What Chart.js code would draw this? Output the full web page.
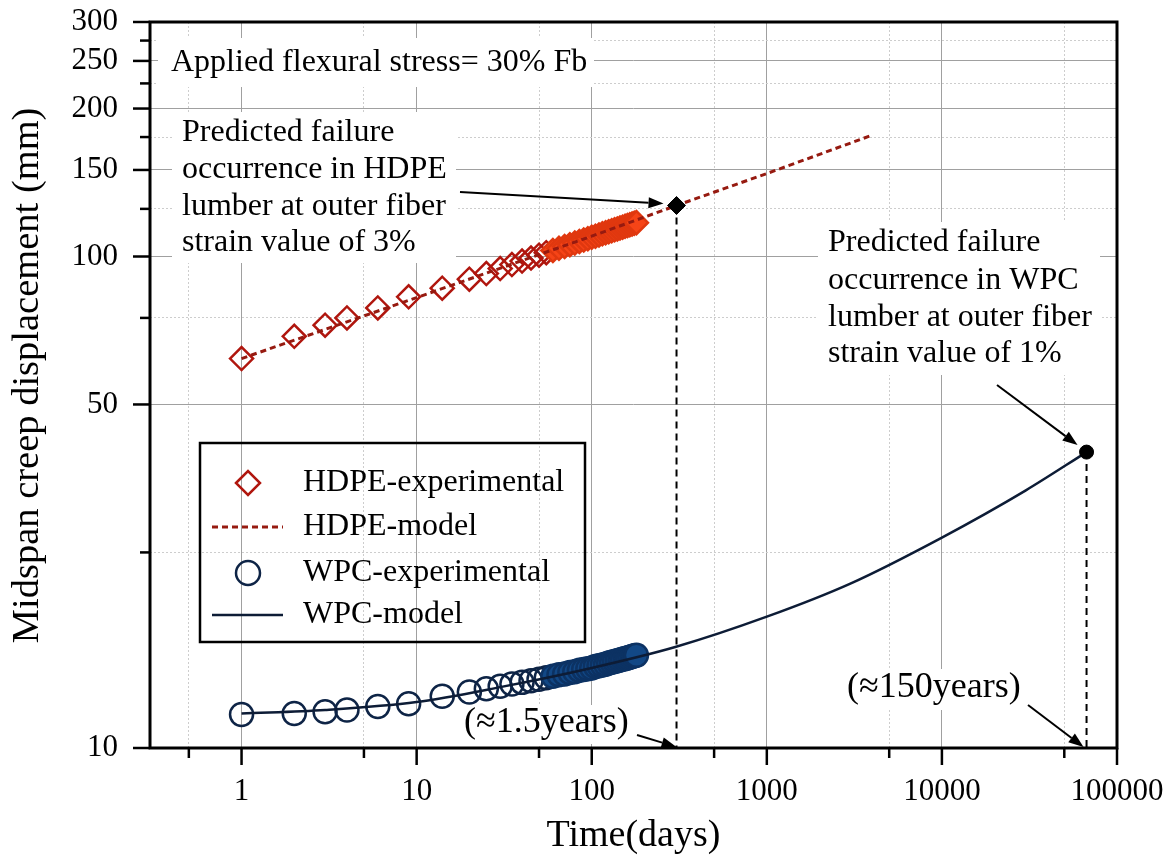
<!DOCTYPE html>
<html><head><meta charset="utf-8">
<script src="https://cdn.jsdelivr.net/npm/chart.js@4.4.1/dist/chart.umd.min.js"></script>
<style>html,body{margin:0;padding:0;background:#fff;}#wrap{width:1174px;height:859px;}</style>
</head><body><div id="wrap"><canvas id="c" width="1174" height="859"></canvas></div>
<script>
// ---------- data ----------
const xTickValues = [0.5, 1, 5, 10, 50, 100, 500, 1000, 5000, 10000, 50000, 100000];
const xMajorTicks = [1, 10, 100, 1000, 10000, 100000];
const yTickValues = [10, 25, 50, 75, 100, 125, 150, 175, 200, 225, 250, 275, 300];
const yMajorTicks = [10, 50, 100, 150, 200, 250, 300];

const hdpeDays = [1,2,3,4,6,9,14,20,25,30,35,40,45,50,55,60,65,70,75,80,85,90,95,100,105,110,115,120,125,130,135,140,145,150,155,160,165,170,175,180];
const hdpeExp = [62.0,68.8,72.5,75.0,78.6,82.8,86.2,89.9,92.3,94.5,96.3,97.9,99.3,100.6,101.8,102.9,103.9,104.8,105.7,106.5,107.3,108.0,108.7,109.4,110.0,110.6,111.2,111.8,112.3,112.8,113.3,113.8,114.3,114.7,115.2,115.6,116.0,116.4,116.8,117.2];

const wpcDays = [1,2,3,4,6,9,14,20,25,30,35,40,45,50,55,60,65,70,75,80,85,90,95,100,105,110,115,120,125,130,135,140,145,150,155,160,165,170,175,180];
const wpcExp = [11.70,11.75,11.85,11.95,12.15,12.30,12.75,13.00,13.20,13.35,13.50,13.60,13.70,13.80,13.90,14.00,14.10,14.15,14.25,14.30,14.40,14.45,14.50,14.55,14.65,14.70,14.75,14.80,14.90,14.95,15.00,15.05,15.10,15.15,15.20,15.25,15.30,15.35,15.40,15.45];

const hdpeModelDays = [1, 10, 100, 305, 1000, 3900];
const hdpeModel = [62.0, 82.5, 110.0, 127.0, 147.5, 176.0];

const wpcModelDays = [1, 3, 10, 30, 100, 300, 1000, 3000, 10000, 30000, 67000];
const wpcModel = [11.75, 11.95, 12.4, 13.3, 14.55, 16.05, 18.5, 21.6, 26.8, 33.4, 40.0];

const hdpeFailure = { day: 305, value: 127.0 };
const wpcFailure = { day: 67000, value: 40.0 };
const axisFloor = 10;

const labels = {
  xTitle: 'Time(days)',
  yTitle: '  Midspan creep displacement (mm)',
  stress: 'Applied flexural stress= 30% Fb',
  hdpeNote: ['Predicted failure', 'occurrence in HDPE', 'lumber at outer fiber', 'strain value of 3%'],
  wpcNote: ['Predicted failure', 'occurrence in WPC', 'lumber at outer fiber', 'strain value of 1%'],
  hdpeYears: '(\u22481.5years)',
  wpcYears: '(\u2248150years)',
  legend: ['HDPE-experimental', 'HDPE-model', 'WPC-experimental', 'WPC-model']
};

// ---------- styles ----------
const FONT = '"Liberation Serif", "Times New Roman", serif';
const C = {
  hdpeEdge: '#b0160e', hdpeBand: '#f64417', hdpeBandEdge: '#e0380f', hdpeLine: '#961a10',
  wpcEdge: '#0e2446', wpcBand: '#124886', wpcBandEdge: '#0c3263', wpcLine: '#0d1c36',
  majorGrid: '#a0a0a0', minorGrid: '#cdcdcd'
};
const denseFrom = 60;

const pts = (xs, ys) => xs.map((x, i) => ({ x: x, y: ys[i] }));

Chart.defaults.font.family = FONT;
Chart.defaults.color = '#000';

function drawArrow(ctx, x1, y1, x2, y2) {
  const a = Math.atan2(y2 - y1, x2 - x1), L = 15, W = 5.5;
  const bx = x2 - L * Math.cos(a), by = y2 - L * Math.sin(a);
  ctx.beginPath(); ctx.moveTo(x1, y1); ctx.lineTo(bx, by); ctx.stroke();
  ctx.beginPath(); ctx.moveTo(x2, y2);
  ctx.lineTo(bx - W * Math.sin(a), by + W * Math.cos(a));
  ctx.lineTo(bx + W * Math.sin(a), by - W * Math.cos(a));
  ctx.closePath(); ctx.fill();
}

const whiteBoxes = [
  [158, 38, 594, 87],
  [172, 112, 456, 263],
  [818, 222, 1100, 375],
  [461, 705, 640, 744],
  [844, 669, 1030, 710]
];

const annotPlugin = {
  id: 'annot',
  beforeDatasetsDraw(chart) {
    const ctx = chart.ctx;
    ctx.save();
    ctx.fillStyle = '#ffffff';
    whiteBoxes.forEach(b => ctx.fillRect(b[0], b[1], b[2] - b[0], b[3] - b[1]));
    ctx.restore();
  },
  afterDatasetsDraw(chart) {
    const ctx = chart.ctx, xs = chart.scales.x, ys = chart.scales.y;
    ctx.save();
    ctx.fillStyle = '#000';
    ctx.font = '32px ' + FONT;
    ctx.textBaseline = 'middle';
    ctx.textAlign = 'left';
    ctx.fillText(labels.stress, 171, 63);
    const hy = [133, 170, 207, 243];
    labels.hdpeNote.forEach((t, i) => ctx.fillText(t, 182, hy[i]));
    const wy = [243, 281, 318, 354];
    labels.wpcNote.forEach((t, i) => ctx.fillText(t, 828, wy[i]));
    ctx.font = '36px ' + FONT;
    ctx.fillText(labels.hdpeYears, 464, 723);
    ctx.fillText(labels.wpcYears, 847, 688);

    // arrows
    ctx.strokeStyle = '#000'; ctx.lineWidth = 2;
    const hx = xs.getPixelForValue(hdpeFailure.day), hyp = ys.getPixelForValue(hdpeFailure.value);
    const wx = xs.getPixelForValue(wpcFailure.day), wyp = ys.getPixelForValue(wpcFailure.value);
    drawArrow(ctx, 460, 192, hx - 13, hyp - 2);
    drawArrow(ctx, 997, 385, wx - 9, wyp - 7);
    drawArrow(ctx, 637, 735, hx, chart.chartArea.bottom - 1);
    drawArrow(ctx, 1028, 705, wx - 3, chart.chartArea.bottom - 1);

    // legend
    ctx.font = '32px ' + FONT;
    const lg = { x1: 200, y1: 443, x2: 585, y2: 642 };
    ctx.lineWidth = 2.5; ctx.strokeStyle = '#000';
    ctx.strokeRect(lg.x1, lg.y1, lg.x2 - lg.x1, lg.y2 - lg.y1);
    const rowY = [483, 527, 573, 615], symX = 248, txtX = 303;
    ctx.strokeStyle = C.hdpeEdge; ctx.lineWidth = 2.5;
    ctx.beginPath(); ctx.moveTo(symX - 12, rowY[0]); ctx.lineTo(symX, rowY[0] - 12); ctx.lineTo(symX + 12, rowY[0]); ctx.lineTo(symX, rowY[0] + 12); ctx.closePath(); ctx.stroke();
    ctx.strokeStyle = C.hdpeLine; ctx.lineWidth = 3; ctx.setLineDash([6, 4]);
    ctx.beginPath(); ctx.moveTo(212, rowY[1]); ctx.lineTo(283, rowY[1]); ctx.stroke();
    ctx.setLineDash([]);
    ctx.strokeStyle = C.wpcEdge; ctx.lineWidth = 2.5;
    ctx.beginPath(); ctx.arc(symX, rowY[2], 12, 0, Math.PI * 2); ctx.stroke();
    ctx.strokeStyle = C.wpcLine; ctx.lineWidth = 2.5;
    ctx.beginPath(); ctx.moveTo(212, rowY[3]); ctx.lineTo(283, rowY[3]); ctx.stroke();
    ctx.fillStyle = '#000';
    labels.legend.forEach((t, i) => ctx.fillText(t, txtX, rowY[i]));
    ctx.restore();
  },
  afterDraw(chart) {
    const ctx = chart.ctx, a = chart.chartArea, xs = chart.scales.x, ys = chart.scales.y;
    ctx.save();
    ctx.strokeStyle = '#000'; ctx.lineWidth = 3;
    ctx.strokeRect(a.left, a.top, a.right - a.left, a.bottom - a.top);
    ctx.lineWidth = 2.5;
    xTickValues.forEach(v => {
      const p = xs.getPixelForValue(v), len = xMajorTicks.includes(v) ? 17 : 10;
      ctx.beginPath(); ctx.moveTo(p, a.bottom); ctx.lineTo(p, a.bottom + len); ctx.stroke();
    });
    yTickValues.forEach(v => {
      const p = ys.getPixelForValue(v), len = yMajorTicks.includes(v) ? 17 : 10;
      ctx.beginPath(); ctx.moveTo(a.left, p); ctx.lineTo(a.left - len, p); ctx.stroke();
    });
    ctx.restore();
  }
};

const gridColor = (majors) => (c) => (c.tick && majors.includes(c.tick.value)) ? C.majorGrid : C.minorGrid;
const gridDash = (majors) => (c) => (c.tick && !majors.includes(c.tick.value)) ? [2, 2] : [];

new Chart(document.getElementById('c'), {
  type: 'scatter',
  data: {
    datasets: [
      { label: 'HDPE failure drop', data: pts([hdpeFailure.day, hdpeFailure.day], [hdpeFailure.value, axisFloor]),
        showLine: true, borderColor: '#000', borderWidth: 2, borderDash: [7, 5], pointRadius: 0, order: 0 },
      { label: 'WPC failure drop', data: pts([wpcFailure.day, wpcFailure.day], [wpcFailure.value, axisFloor]),
        showLine: true, borderColor: '#000', borderWidth: 2, borderDash: [7, 5], pointRadius: 0, order: 0 },
      { label: 'HDPE failure', data: pts([hdpeFailure.day], [hdpeFailure.value]),
        pointStyle: 'rectRot', pointRadius: 9, backgroundColor: '#000', borderColor: '#000', order: 1 },
      { label: 'WPC failure', data: pts([wpcFailure.day], [wpcFailure.value]),
        pointStyle: 'circle', pointRadius: 7, backgroundColor: '#000', borderColor: '#000', order: 1 },
      { label: labels.legend[1], data: pts(hdpeModelDays, hdpeModel), showLine: true,
        borderColor: C.hdpeLine, borderWidth: 3, borderDash: [6, 4], pointRadius: 0, order: 2 },
      { label: labels.legend[3], data: pts(wpcModelDays, wpcModel), showLine: true,
        borderColor: C.wpcLine, borderWidth: 2.5, cubicInterpolationMode: 'monotone', pointRadius: 0, order: 3 },
      { label: labels.legend[0], data: pts(hdpeDays, hdpeExp), pointStyle: 'rectRot', pointRadius: 11.5,
        pointBorderWidth: 2.5,
        pointBorderColor: c => hdpeDays[c.dataIndex] >= denseFrom ? C.hdpeBandEdge : C.hdpeEdge,
        pointBackgroundColor: c => hdpeDays[c.dataIndex] >= denseFrom ? C.hdpeBand : 'rgba(255,255,255,0)',
        order: 4 },
      { label: labels.legend[2], data: pts(wpcDays, wpcExp), pointStyle: 'circle', pointRadius: 11.5,
        pointBorderWidth: 2.5,
        pointBorderColor: c => wpcDays[c.dataIndex] >= denseFrom ? C.wpcBandEdge : C.wpcEdge,
        pointBackgroundColor: c => wpcDays[c.dataIndex] >= denseFrom ? C.wpcBand : 'rgba(255,255,255,0)',
        order: 5 }
    ]
  },
  options: {
    responsive: false, animation: false, devicePixelRatio: 1,
    layout: { padding: { left: 0, top: 22, right: 57, bottom: 0 } },
    plugins: { legend: { display: false }, tooltip: { enabled: false } },
    scales: {
      x: {
        type: 'logarithmic', min: 0.316, max: 100000,
        afterBuildTicks: s => { s.ticks = xTickValues.map(v => ({ value: v })); },
        afterFit: s => { s.height = 111; },
        ticks: { autoSkip: false, maxRotation: 0, padding: 2, font: { size: 31 }, color: '#000',
          callback: v => xMajorTicks.includes(v) ? String(v) : '' },
        grid: { drawTicks: true, tickLength: 23, tickColor: 'rgba(0,0,0,0)', color: gridColor(xMajorTicks), lineWidth: 1 },
        border: { display: false, dash: gridDash(xMajorTicks) },
        title: { display: true, text: labels.xTitle, font: { size: 38 }, color: '#000', padding: { top: 0, bottom: 0 } }
      },
      y: {
        type: 'logarithmic', min: 10, max: 300,
        afterBuildTicks: s => { s.ticks = yTickValues.map(v => ({ value: v })); },
        afterFit: s => { s.width = 150; },
        ticks: { autoSkip: false, padding: 2, font: { size: 31 }, color: '#000',
          callback: v => yMajorTicks.includes(v) ? String(v) : '' },
        grid: { drawTicks: true, tickLength: 30, tickColor: 'rgba(0,0,0,0)', color: gridColor(yMajorTicks), lineWidth: 1 },
        border: { display: false, dash: gridDash(yMajorTicks) },
        title: { display: true, text: labels.yTitle, font: { size: 38.5 }, color: '#000', padding: { top: 5, bottom: 0 } }
      }
    }
  },
  plugins: [annotPlugin]
});
</script></body></html>
